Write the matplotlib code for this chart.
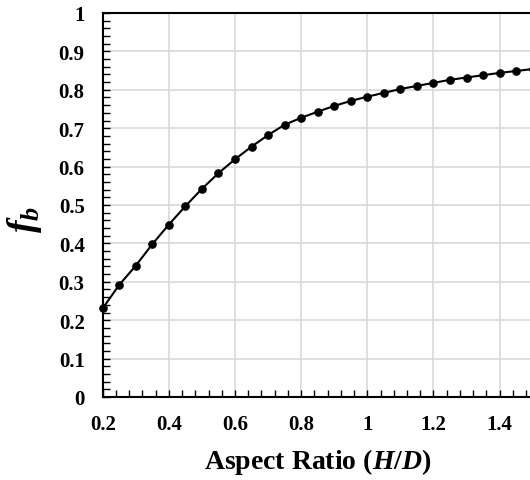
import matplotlib
matplotlib.use("Agg")
import matplotlib.pyplot as plt
from matplotlib.ticker import MultipleLocator

aspect_ratio = [0.20, 0.25, 0.30, 0.35, 0.40, 0.45, 0.50, 0.55, 0.60, 0.65,
                0.70, 0.75, 0.80, 0.85, 0.90, 0.95, 1.00, 1.05, 1.10, 1.15,
                1.20, 1.25, 1.30, 1.35, 1.40, 1.45, 1.50]
f_b = [0.231, 0.292, 0.342, 0.398, 0.449, 0.497, 0.542, 0.583, 0.619, 0.652,
       0.682, 0.709, 0.727, 0.743, 0.758, 0.771, 0.782, 0.792, 0.802, 0.810,
       0.818, 0.826, 0.832, 0.838, 0.844, 0.849, 0.854]

x_ticks = [0.2, 0.4, 0.6, 0.8, 1.0, 1.2, 1.4]
x_tick_labels = ["0.2", "0.4", "0.6", "0.8", "1", "1.2", "1.4"]
y_ticks = [0, 0.1, 0.2, 0.3, 0.4, 0.5, 0.6, 0.7, 0.8, 0.9, 1.0]
y_tick_labels = ["0", "0.1", "0.2", "0.3", "0.4", "0.5", "0.6", "0.7", "0.8", "0.9", "1"]

plt.rcParams["font.family"] = ["Liberation Serif", "DejaVu Serif"]
plt.rcParams["mathtext.fontset"] = "custom"
plt.rcParams["mathtext.it"] = "Liberation Serif:italic:bold"
plt.rcParams["mathtext.bf"] = "Liberation Serif:bold"
plt.rcParams["mathtext.rm"] = "Liberation Serif:bold"

fig = plt.figure(figsize=(5.30, 4.81), dpi=100)
ax = fig.add_axes([0.1938, 0.1726, 1.005 - 0.1938, 0.9709 - 0.1726])

ax.plot(aspect_ratio, f_b, color="black", lw=1.5, marker="o", ms=5.2,
        mfc="black", mec="black", clip_on=False, zorder=3)

ax.set_xlim(0.2, 1.5)
ax.set_ylim(0, 1)
ax.set_xticks(x_ticks)
ax.set_xticklabels(x_tick_labels)
ax.set_yticks(y_ticks)
ax.set_yticklabels(y_tick_labels)
ax.xaxis.set_minor_locator(MultipleLocator(0.04))
ax.yaxis.set_minor_locator(MultipleLocator(0.02))

ax.grid(True, which="major", color="#d9d9d9", lw=1.2, zorder=0)
ax.set_axisbelow(True)

for side in ["left", "bottom", "top"]:
    ax.spines[side].set_linewidth(1.5)
    ax.spines[side].set_color("black")
ax.spines["right"].set_visible(False)

ax.tick_params(which="both", direction="in", width=1.0, color="black",
               top=False, right=False)
ax.tick_params(which="major", length=5)
ax.tick_params(which="minor", length=5)
ax.tick_params(axis="both", labelsize=15)
ax.tick_params(axis="y", pad=13)
ax.tick_params(axis="x", pad=12)
for lab in ax.get_xticklabels() + ax.get_yticklabels():
    lab.set_fontweight("bold")

ax.set_xlabel(r"Aspect Ratio ($\mathit{H}$/$\mathit{D}$)", fontsize=20,
              fontweight="bold", labelpad=9)

# y-axis label placed in figure pixels
fig.text(25 / 530, 1 - 220 / 481, r"$\mathit{f_b}$", fontsize=27,
         rotation=90, ha="center", va="center")

fig.savefig("out.png", dpi=100)
